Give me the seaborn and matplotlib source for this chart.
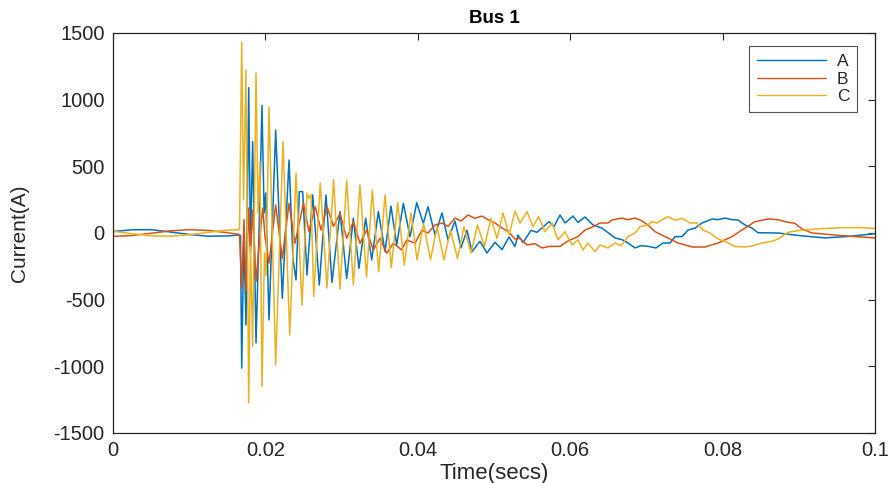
import numpy as np
import pandas as pd
import matplotlib
matplotlib.use("Agg")
import matplotlib.pyplot as plt
import seaborn as sns

# ---------------- data (time in ms, current in A) ----------------
A_t = [0, 2.5, 5, 7.5, 10, 12.5, 15, 16.6, 16.73, 16.89, 17.17, 17.45, 17.81, 18.04, 18.33,
       18.77, 19.16, 19.55, 19.83, 20.04, 20.47, 21.35, 22.22, 23.10, 23.62, 24.02, 24.45,
       24.89, 25.46, 26.21, 27.07, 27.95, 28.74, 29.79, 30.67, 31.54, 32.28, 33.16, 33.95,
       34.82, 35.70, 36.48, 37.23, 38.10, 38.98, 39.86, 40.72, 41.34, 42.26, 43.18, 43.96,
       44.88, 45.67, 46.46, 47.11, 48.16, 49.08, 50.13, 51.05, 51.97, 52.76, 53.15, 53.81,
       54.86, 55.64, 57.22, 57.87, 58.66, 59.32, 60.37, 61.02, 61.94, 62.99, 64.17, 65.88,
       66.80, 67.59, 68.50, 69.29, 70.21, 71.26, 72.18, 73.10, 73.75, 74.67, 75.46, 76.38,
       77.30, 78.61, 79.40, 80.31, 81.23, 82.02, 82.94, 83.86, 84.65, 87.27, 90.16, 93.44,
       96.72, 100]
A_v = [11, 24, 25, 8, -11, -24, -22, -15, -20, -1013, 0, -690, 1090, -100, 685,
       -825, 0, 955, 150, 300, -652, 772, -490, 547, -200, -352, 310,
       310, -315, 285, -390, 285, -370, 160, -340, 110, -265, 110, -202,
       160, -140, 202, -90, 222, -27, 228, 72, 197, -15, 150, -52,
       90, -110, 20, -140, -62, -150, -70, -125, -30, -102, -15, -72,
       20, 5, 85, 47, 135, 75, 127, 80, 120, 60, 37, -37,
       -50, -75, -112, -95, -100, -112, -75, -75, -27, -27, 22, 37,
       75, 105, 100, 112, 100, 98, 60, 37, 2, 0, -20, -37,
       -25, -5]

B_t = [0, 2.5, 5, 7.5, 10, 12.5, 15, 16.6, 16.89, 17.19, 17.45, 17.81, 18.04, 18.33, 18.77,
       19.16, 19.65, 19.95, 20.47, 21.35, 22.22, 23.10, 23.88, 25.00, 25.72, 26.55, 27.30,
       28.08, 28.94, 29.79, 30.67, 31.54, 32.41, 33.29, 34.16, 35.04, 35.92, 36.79, 37.89,
       38.54, 39.63, 40.55, 41.34, 42.26, 43.18, 43.96, 44.88, 45.67, 46.59, 47.50, 48.43,
       49.21, 50.13, 51.05, 51.84, 52.76, 53.41, 54.33, 55.38, 56.30, 57.35, 58.66, 59.71,
       61.02, 61.94, 62.99, 63.91, 64.96, 65.49, 66.80, 67.59, 68.50, 69.29, 70.21, 71.13,
       72.44, 74.15, 76.02, 77.69, 79.40, 81.23, 82.94, 84.25, 85.96, 87.27, 88.19, 89.50,
       90.42, 91.73, 95.67, 100]
B_v = [-25, -19, -2, 16, 25, 19, 2, -11, -412, 100, -430, 187, -150, 170, -365,
       -100, 187, -27, -227, 210, -190, 222, -77, 225, 10, 197, 22,
       197, 50, 147, -40, 85, -77, 22, -127, -40, -152, -77, -127,
       -52, -77, 22, 0, 60, 75, 50, 112, 90, 135, 110, 127,
       100, 75, 37, 12, -45, -40, -90, -80, -112, -100, -100, -60,
       -27, 22, 47, 75, 75, 97, 112, 100, 112, 95, 60, 10,
       -27, -75, -105, -105, -75, -27, 37, 85, 105, 100, 85, 72,
       30, 0, -20, -37]

C_t = [0, 2.5, 5, 7.5, 10, 12.5, 15, 16.6, 16.89, 17.13, 17.45, 17.81, 18.04, 18.33, 18.77,
       19.03, 19.29, 19.55, 19.88, 20.08, 20.47, 21.35, 22.31, 23.19, 24.02, 24.80, 25.46,
       25.70, 25.98, 26.34, 27.20, 28.08, 28.94, 29.79, 30.67, 31.54, 32.41, 33.27, 34.03,
       34.87, 35.70, 36.52, 37.36, 38.23, 39.11, 39.90, 40.75, 41.67, 42.52, 43.44, 44.29,
       45.21, 46.06, 46.98, 47.83, 48.75, 49.61, 50.39, 51.18, 51.97, 52.76, 53.41, 54.33,
       55.12, 55.84, 56.69, 57.61, 58.40, 59.32, 60.24, 61.02, 61.68, 62.34, 63.25, 63.91,
       64.96, 65.88, 66.67, 67.59, 68.50, 69.16, 70.21, 70.73, 71.39, 72.05, 72.83, 73.75,
       74.67, 75.72, 76.64, 77.43, 78.35, 79.40, 80.31, 81.63, 82.94, 84.00, 85.17, 86.48,
       87.27, 88.58, 90.16, 92.78, 95.67, 97.77, 100]
C_v = [13, -5, -21, -24, -13, 5, 21, 25, 1430, 250, 1220, -1275, -100, -850, 1200,
       150, 535, -1150, -150, -320, 945, -990, 685, -765, 450, -540, 300,
       260, 290, -477, 375, -412, 400, -420, 392, -390, 360, -330, 322,
       -290, 285, -260, 228, -240, 150, -202, 72, -200, 47, -202, 22,
       -190, 47, -150, 60, -100, 110, -40, 150, -15, 165, 75, 160,
       47, 122, 10, 75, -52, 10, -90, -52, -127, -75, -140, -90,
       -112, -75, -95, -27, 0, 47, 60, 85, 75, 100, 122, 95,
       110, 75, 75, 22, 0, -45, -62, -102, -105, -95, -75, -62,
       -45, 5, 20, 32, 40, 40, 35]

series_names = ["A", "B", "C"]
series_colors = ["#0072BD", "#D95319", "#EDB120"]
x_ticks = [0, 0.02, 0.04, 0.06, 0.08, 0.1]
x_ticklabels = ["0", "0.02", "0.04", "0.06", "0.08", "0.1"]
y_ticks = [-1500, -1000, -500, 0, 500, 1000, 1500]
y_ticklabels = ["-1500", "-1000", "-500", "0", "500", "1000", "1500"]
title_text = "Bus 1"
x_label = "Time(secs)"
y_label = "Current(A)"

# ---------------- build long-form table ----------------
frames = []
for name, tt, vv in zip(series_names, [A_t, B_t, C_t], [A_v, B_v, C_v]):
    frames.append(pd.DataFrame({"time": np.array(tt) / 1000.0, "current": vv, "phase": name}))
df = pd.concat(frames, ignore_index=True)

sns.set_style("white")
plt.rcParams["font.family"] = ["Liberation Sans", "DejaVu Sans"]

fig = plt.figure(figsize=(8.88, 4.83), dpi=100)
ax = fig.add_axes([113 / 888, 1 - 433 / 483, (875 - 113) / 888, (433 - 33) / 483])

sns.lineplot(data=df, x="time", y="current", hue="phase", hue_order=series_names,
             palette=series_colors, estimator=None, sort=False, linewidth=1.1, ax=ax)

ax.set_xlim(0, 0.1)
ax.set_ylim(-1500, 1500)
ax.set_xticks(x_ticks)
ax.set_xticklabels(x_ticklabels)
ax.set_yticks(y_ticks)
ax.set_yticklabels(y_ticklabels)
ax.tick_params(direction="in", top=True, right=True, length=5, width=0.8,
               colors="#262626", labelsize=14.5, pad=6)
for sp in ax.spines.values():
    sp.set_visible(True)
    sp.set_color("#262626")
    sp.set_linewidth(0.9)

ax.set_title(title_text, fontsize=13.5, fontweight="bold", color="#000000", pad=7)
ax.set_xlabel(x_label, fontsize=16, color="#262626", labelpad=2)
ax.set_ylabel(y_label, fontsize=15, color="#262626", labelpad=18)

leg = ax.legend(loc="upper right", bbox_to_anchor=(857 / 888, 1 - 46 / 483),
                bbox_transform=fig.transFigure, borderaxespad=0, frameon=True,
                fancybox=False, edgecolor="#262626", fontsize=12.5,
                handlelength=4.0, handletextpad=0.6, labelspacing=0.15,
                borderpad=0.45)
leg.get_frame().set_linewidth(0.8)
for line in leg.get_lines():
    line.set_linewidth(1.0)

fig.savefig("out.png", dpi=100)
